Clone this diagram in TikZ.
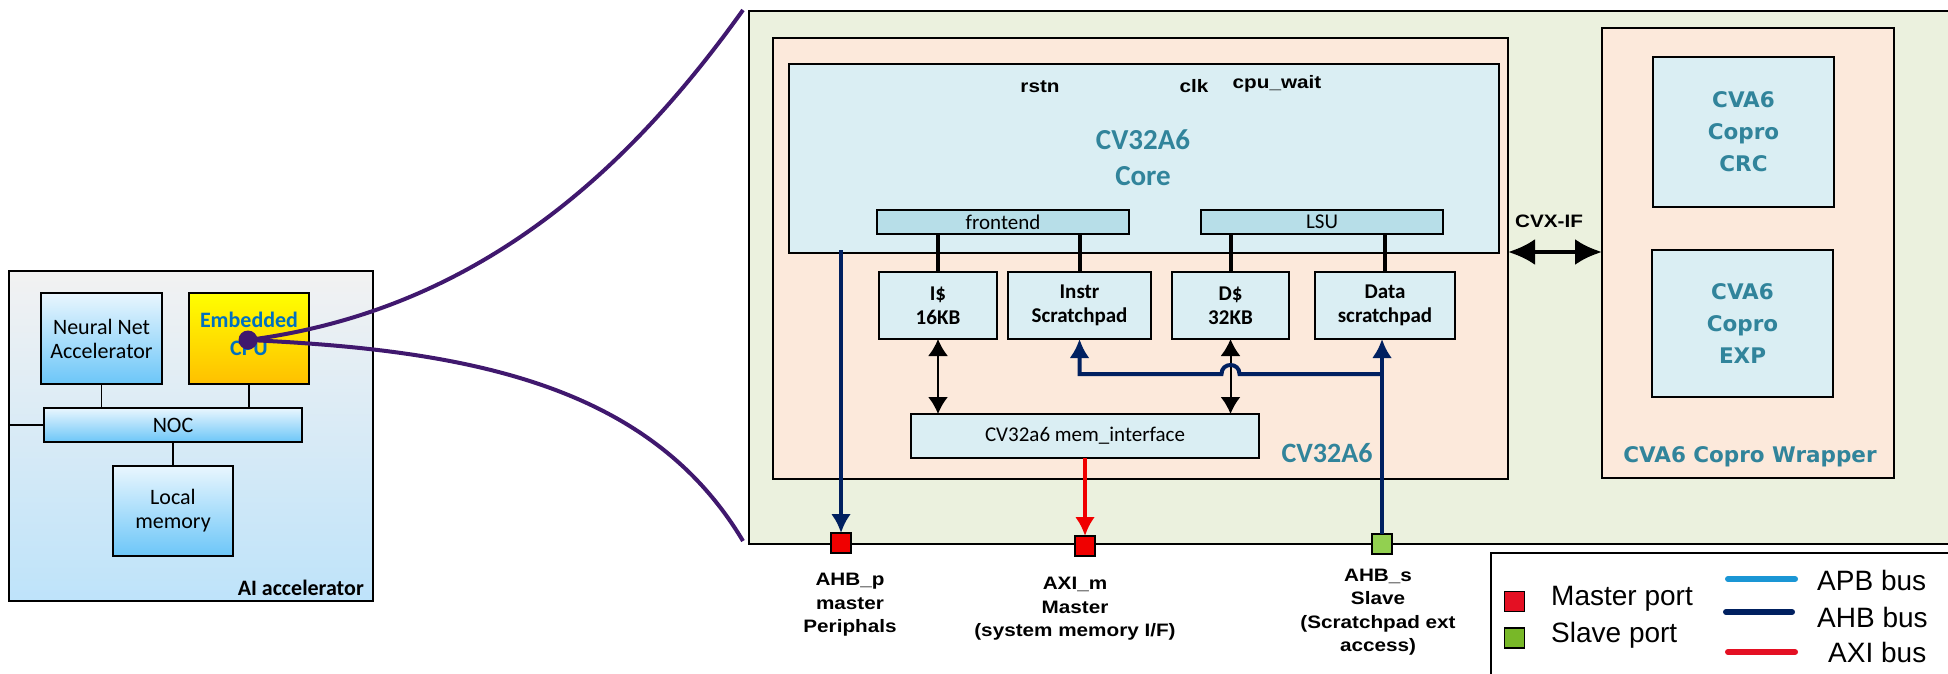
\documentclass[tikz,border=0pt]{standalone}
\usepackage{fontspec}
\setmainfont{Carlito}
\newfontfamily\lblfont[FakeStretch=1.15]{Liberation Sans}
\newfontfamily\legfont{Liberation Sans}
\newfontfamily\verdfont{DejaVu Sans}
\usetikzlibrary{arrows.meta}
\newcommand{\fsz}[2]{\fontsize{#1}{#2}\selectfont}
\definecolor{gbg}{RGB}{235,241,222}
\definecolor{peach}{RGB}{252,233,219}
\definecolor{lblue}{RGB}{218,238,243}
\definecolor{mblue}{RGB}{183,222,232}
\definecolor{teal6}{RGB}{49,132,155}
\definecolor{navy}{RGB}{0,32,96}
\definecolor{purp}{RGB}{64,24,110}
\definecolor{cpublue}{RGB}{0,112,192}
\definecolor{apbc}{RGB}{26,150,213}
\definecolor{axic}{RGB}{228,16,35}
\definecolor{mred}{RGB}{240,0,0}
\definecolor{sgreen}{RGB}{146,208,80}
\definecolor{lgreen}{RGB}{120,184,40}
\definecolor{skyA}{RGB}{233,246,254}
\definecolor{skyB}{RGB}{108,198,248}
\definecolor{aiA}{RGB}{242,242,242}
\definecolor{aiB}{RGB}{190,227,250}
\definecolor{yelA}{RGB}{255,255,0}
\definecolor{yelB}{RGB}{255,192,0}
\tikzset{
  bx/.style={draw=black, line width=2pt, inner sep=0pt, outer sep=0pt, anchor=north west},
  skybox/.style={bx, line width=1.8pt, top color=skyA, bottom color=skyB, font=\fsz{22}{24}, align=center},
  cpubox/.style={bx, line width=1.8pt, top color=yelA, bottom color=yelB},
  lbbox/.style={bx, fill=lblue},
  mbbox/.style={bx, fill=mblue, font=\fsz{21}{24}},
  sub/.style={bx, fill=lblue, font=\bfseries\fsz{21}{24}, align=center},
  conn/.style={draw=black, line width=1.8pt},
  thk/.style={draw=black, line width=4pt},
  dbl/.style={draw=black, line width=2pt, {Latex[length=17pt,width=20pt]}-{Latex[length=17pt,width=20pt]}},
  navyar/.style={draw=navy, line width=4pt, -{Latex[length=19pt,width=20pt]}},
  axiar/.style={draw=mred, line width=4pt, -{Latex[length=19pt,width=20pt]}},
  port/.style={draw=black, line width=1.6pt, minimum size=20pt, inner sep=0pt, outer sep=0pt},
  sig/.style={font=\lblfont\bfseries\fsz{18}{23.5}, align=center, inner sep=0pt},
  tealT/.style={text=teal6, font=\bfseries\fsz{29}{36}, align=center, inner sep=0pt},
  copro/.style={text=teal6, font=\verdfont\bfseries\fsz{21.5}{32}, align=center, inner sep=0pt},
  leg/.style={font=\legfont\fsz{28}{30}, inner sep=0pt},
  legline/.style={line width=6pt, line cap=round}
}
\begin{document}
\begin{tikzpicture}[x=1pt, y=-1pt]
\useasboundingbox (0,0) rectangle (1948,674);
\fill[white] (0,0) rectangle (1948,674);
% ---------------- AI accelerator ----------------
\node[bx, line width=1.5pt, top color=aiA, bottom color=aiB, minimum width=364pt, minimum height=330pt] (ai) at (9,271) {};
\node[skybox, minimum width=121pt, minimum height=91pt] (nn) at (41,293) {Neural Net\\Accelerator};
\node[cpubox, minimum width=120pt, minimum height=91pt] (cpu) at (189,293) {};
\node[text=cpublue, font=\bfseries\fsz{22}{28}, align=center, inner sep=0pt] (cput) at (249,334) {Embedded\\CPU};
\node[skybox, minimum width=258pt, minimum height=34pt] (noc) at (44,408) {NOC};
\node[skybox, minimum width=120pt, minimum height=90pt] (lmem) at (113,466) {Local\\memory};
\node[font=\bfseries\fsz{22}{24}, anchor=east, inner sep=0pt] (ailbl) at (364,588) {AI accelerator};
\draw[conn] (nn.south) -- (nn.south |- noc.north);
\draw[conn] (cpu.south) -- (cpu.south |- noc.north);
\draw[conn] (noc.south) -- (lmem.north);
\draw[conn] (noc.west) -- (noc.west -| ai.west);
% ---------------- SoC ----------------
\node[bx, fill=gbg, minimum width=1230pt, minimum height=533pt] (soc) at (749,11) {};
\node[bx, fill=peach, minimum width=735pt, minimum height=441pt] (cv) at (773,38) {};
\node[lbbox, minimum width=710pt, minimum height=189pt] (core) at (789,64) {};
\node[mbbox, minimum width=252pt, minimum height=24pt] (fe) at (877,210) {frontend};
\node[mbbox, minimum width=242pt, minimum height=24pt] (lsu) at (1201,210) {LSU};
\node[sub, minimum width=118pt, minimum height=67pt] (icache) at (879,272) {I\$\\16KB};
\node[sub, minimum width=143pt, minimum height=67pt] (instr) at (1008,272) {Instr\\Scratchpad};
\node[sub, minimum width=117pt, minimum height=67pt] (dcache) at (1172,272) {D\$\\32KB};
\node[sub, minimum width=140pt, minimum height=67pt] (data) at (1315,272) {Data\\scratchpad};
\node[lbbox, font=\fsz{21}{24}, minimum width=348pt, minimum height=44pt] (mem) at (911,414) {CV32a6 mem\_interface};
\node[bx, fill=peach, minimum width=292pt, minimum height=450pt] (wrap) at (1602,28) {};
\node[lbbox, copro, minimum width=181pt, minimum height=150pt] (crc) at (1653,57) {CVA6\\Copro\\CRC};
\node[lbbox, copro, minimum width=181pt, minimum height=147pt] (exp) at (1652,250) {CVA6\\Copro\\EXP};
\node[copro] (wraplbl) at (1750,457) {CVA6 Copro Wrapper};
\node[tealT] (coret) at (1143,158) {CV32A6\\Core};
\node[tealT, font=\bfseries\fsz{28}{34}] (cvlbl) at (1327,453) {CV32A6};
\node[sig, anchor=base] (rstn) at (1040,93) {rstn};
\node[sig, anchor=base] (clk) at (1194,93) {clk};
\node[sig, anchor=base] (cpuwait) at (1277,89) {cpu\_wait};
\node[sig] (cvxif) at (1549,221) {CVX-IF};
% internal connections
\draw[thk] (icache.north |- fe.south) -- (icache.north);
\draw[thk] (instr.north |- fe.south) -- (instr.north);
\draw[thk] (dcache.north |- lsu.south) -- (dcache.north);
\draw[thk] (data.north |- lsu.south) -- (data.north);
\draw[dbl] (icache.south) -- (icache.south |- mem.north);
\draw[dbl] (dcache.south) -- (dcache.south |- mem.north);
\coordinate (cvxy) at (0,252);
\draw[line width=4pt, {Latex[length=27pt,width=26pt]}-{Latex[length=27pt,width=26pt]}] (cv.east |- cvxy) -- (wrap.west |- cvxy);
% ports
\node[port, fill=mred] (ahbp) at (841,543) {};
\node[port, fill=mred] (axim) at (1085,546) {};
\node[port, fill=sgreen] (ahbs) at (1382,544) {};
\coordinate (pstart) at (842,250);
\coordinate (busy) at (0,374);
\draw[navyar] (ahbp.north |- pstart) -- (ahbp.north);
\draw[navyar] (ahbs.north) -- (ahbs.north |- data.south);
\draw[navyar] (ahbs.north |- busy) -- ([xshift=9pt]dcache.south |- busy)
   .. controls +(0,-12) and +(0,-12) .. ([xshift=-9pt]dcache.south |- busy)
   -- (instr.south |- busy) -- (instr.south);
\draw[axiar] (mem.south) -- (mem.south |- axim.north);
% port labels
\node[sig] (ahbpl) at (850,605) {AHB\_p\\master\\Periphals};
\node[sig] (aximl) at (1075,609) {AXI\_m\\Master\\(system memory I/F)};
\node[sig] (ahbsl) at (1378,612) {AHB\_s\\Slave\\(Scratchpad ext\\access)};
% ---------------- zoom curves ----------------
\node[circle, fill=purp, minimum size=19pt, inner sep=0pt] (dot) at (248,340) {};
\coordinate (ctop) at (743,10);
\coordinate (cbot) at (743,541);
\draw[purp, line width=4pt] (dot.center) .. controls (480,310) and (630,168) .. (ctop);
\draw[purp, line width=4pt] (dot.center) .. controls (470,350) and (650,385) .. (cbot);
% ---------------- legend ----------------
\node[bx, fill=white, minimum width=480pt, minimum height=140pt] (legend) at (1491,553) {};
\node[port, fill=axic] (lm) at (1514.5,601.5) {};
\node[port, fill=lgreen] (ls) at (1514.5,638) {};
\node[leg, anchor=base west] (lmt) at (1551,605) {Master port};
\node[leg, anchor=base west] (lst) at (1551,642) {Slave port};
\coordinate (apbL) at (1728,579); \coordinate (apbR) at (1795,579);
\coordinate (ahbL) at (1726,612); \coordinate (ahbR) at (1792,612);
\coordinate (axiL) at (1728,652); \coordinate (axiR) at (1795,652);
\draw[legline, apbc] (apbL) -- (apbR);
\draw[legline, navy] (ahbL) -- (ahbR);
\draw[legline, axic] (axiL) -- (axiR);
\node[leg, anchor=base west] (apbt) at (1817,590) {APB bus};
\node[leg, anchor=base west] (ahbt) at (1817,627) {AHB bus};
\node[leg, anchor=base west] (axit) at (1828,662) {AXI bus};
\end{tikzpicture}
\end{document}
